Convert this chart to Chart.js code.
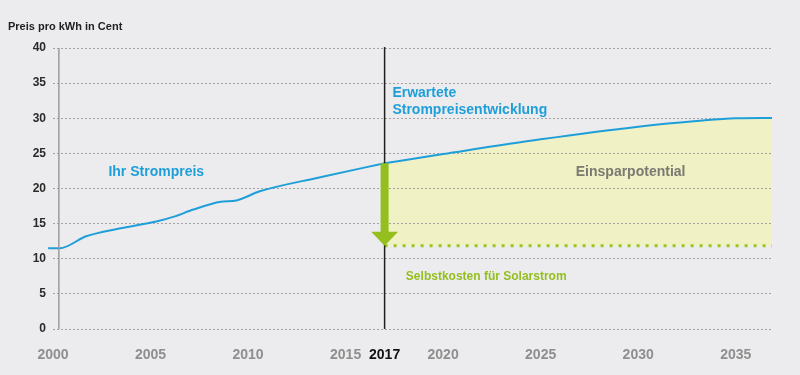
<!DOCTYPE html>
<html>
<head>
<meta charset="utf-8">
<script src="https://cdn.jsdelivr.net/npm/chart.js@4"></script>
<style>
  html, body { margin: 0; padding: 0; background: #ececee; }
  canvas { display: block; }
</style>
</head>
<body>
<canvas id="chart" width="800" height="375"></canvas>
<script>
// price history (cent per kWh)
const histYears = [1999.75, 2000.35, 2001.7, 2003.4, 2005.3, 2006.2, 2007.2, 2008.6, 2009.4, 2010.6, 2013.7, 2017];
const histPrice = [11.5, 11.5, 13.2, 14.3, 15.3, 16.0, 17.0, 18.1, 18.3, 19.6, 21.6, 23.6];

// expected development
const projYears = [2017, 2020, 2025, 2030, 2033, 2035, 2036.86];
const projPrice = [23.6, 24.9, 27.0, 28.8, 29.6, 30.0, 30.05];

// own cost of solar power
const solarCost = 11.85;

const xTicks = [2000, 2005, 2010, 2015, 2017, 2020, 2025, 2030, 2035];
const markYear = 2017;

const FONT = '"Liberation Sans", Arial, sans-serif';
const BLUE = '#1e9fd9';
const GREEN = '#94bf1e';

const overlay = {
  id: 'overlay',
  afterDatasetsDraw(chart) {
    const ctx = chart.ctx;
    const x = chart.scales.x, y = chart.scales.y;
    const area = chart.chartArea;

    // y axis line
    const ax = x.getPixelForValue(2000.3);
    ctx.save();
    ctx.strokeStyle = '#9b9b9b';
    ctx.lineWidth = 1.5;
    ctx.beginPath();
    ctx.moveTo(ax, y.getPixelForValue(40));
    ctx.lineTo(ax, y.getPixelForValue(0));
    ctx.stroke();

    // 2017 marker line
    const mx = x.getPixelForValue(markYear);
    ctx.strokeStyle = '#1f1f1f';
    ctx.lineWidth = 1.5;
    ctx.beginPath();
    ctx.moveTo(mx, area.top - 1);
    ctx.lineTo(mx, y.getPixelForValue(0));
    ctx.stroke();

    // arrow from current price down to solar cost
    const yTop = y.getPixelForValue(projPrice[0]);
    const yTip = y.getPixelForValue(solarCost);
    const headH = 14, headW = 13.5, shaftW = 4;
    ctx.fillStyle = GREEN;
    ctx.beginPath();
    ctx.moveTo(mx - shaftW, yTop);
    ctx.lineTo(mx + shaftW, yTop);
    ctx.lineTo(mx + shaftW, yTip - headH);
    ctx.lineTo(mx + headW, yTip - headH);
    ctx.lineTo(mx, yTip);
    ctx.lineTo(mx - headW, yTip - headH);
    ctx.lineTo(mx - shaftW, yTip - headH);
    ctx.closePath();
    ctx.fill();

    // labels
    ctx.textBaseline = 'middle';
    ctx.textAlign = 'left';
    ctx.font = 'bold 14px ' + FONT;
    ctx.fillStyle = BLUE;
    ctx.fillText('Ihr Strompreis', x.getPixelForValue(2002.84), y.getPixelForValue(22.3));
    ctx.fillText('Erwartete', x.getPixelForValue(2017.4), y.getPixelForValue(33.6));
    ctx.fillText('Strompreisentwicklung', x.getPixelForValue(2017.4), y.getPixelForValue(31.1));
    ctx.fillStyle = '#7a7a72';
    ctx.fillText('Einsparpotential', x.getPixelForValue(2026.8), y.getPixelForValue(22.3));
    ctx.font = 'bold 12px ' + FONT;
    ctx.fillStyle = GREEN;
    ctx.fillText('Selbstkosten für Solarstrom', x.getPixelForValue(2018.09), y.getPixelForValue(7.5));

    ctx.font = 'bold 11px ' + FONT;
    ctx.fillStyle = '#222';
    ctx.fillText('Preis pro kWh in Cent', 8, 27);
    ctx.restore();
  }
};

new Chart(document.getElementById('chart'), {
  type: 'line',
  data: {
    datasets: [
      {
        label: 'Ihr Strompreis',
        data: histYears.map((yr, i) => ({ x: yr, y: histPrice[i] })),
        borderColor: BLUE,
        borderWidth: 2,
        pointRadius: 0,
        cubicInterpolationMode: 'monotone',
        clip: false,
        fill: false
      },
      {
        label: 'Erwartete Strompreisentwicklung',
        data: projYears.map((yr, i) => ({ x: yr, y: projPrice[i] })),
        borderColor: BLUE,
        borderWidth: 2,
        pointRadius: 0,
        cubicInterpolationMode: 'monotone',
        fill: { target: 2 },
        backgroundColor: '#f1f1c6'
      },
      {
        label: 'Selbstkosten für Solarstrom',
        data: projYears.map(yr => ({ x: yr, y: solarCost })),
        borderColor: '#9cc41c',
        borderWidth: 3,
        borderDash: [3, 6],
        pointRadius: 0,
        fill: false
      }
    ]
  },
  options: {
    responsive: false,
    animation: false,
    layout: { padding: { top: 48, right: 28, left: 0, bottom: 0 } },
    plugins: {
      legend: { display: false },
      tooltip: { enabled: false },
      filler: { drawTime: 'beforeDraw' }
    },
    scales: {
      x: {
        type: 'linear',
        min: 2000,
        max: 2036.86,
        grid: { display: false },
        border: { display: false },
        afterBuildTicks: scale => { scale.ticks = xTicks.map(v => ({ value: v })); },
        afterFit: scale => { scale.height = 46; },
        ticks: {
          autoSkip: false,
          maxRotation: 0,
          padding: 10,
          font: { family: FONT, size: 14, weight: 'bold' },
          color: c => c.tick && c.tick.value === markYear ? '#111' : '#8e8e8e',
          callback: v => String(v)
        }
      },
      y: {
        min: 0,
        max: 40,
        afterFit: scale => { scale.width = 53; },
        grid: { color: '#a3a3a3', lineWidth: 1, drawTicks: false },
        border: { display: false, dash: [2, 2] },
        ticks: {
          stepSize: 5,
          padding: 7,
          font: { family: FONT, size: 12, weight: 'bold' },
          color: '#2a2a2a'
        }
      }
    }
  },
  plugins: [overlay]
});
</script>
</body>
</html>
